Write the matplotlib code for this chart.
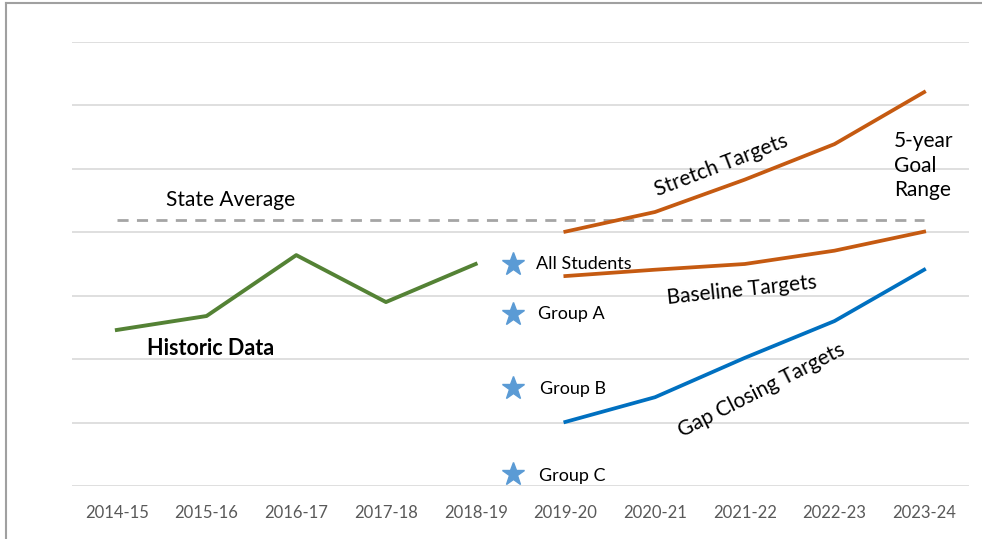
import matplotlib.pyplot as plt
from matplotlib.lines import Line2D
import numpy as np

years = ['2014-15', '2015-16', '2016-17', '2017-18', '2018-19',
         '2019-20', '2020-21', '2021-22', '2022-23', '2023-24']
historic = [24.6, 26.8, 36.4, 29.0, 35.0]
state_avg = 42.0
stretch = [40.1, 43.2, 48.3, 53.9, 62.1]
baseline = [33.1, 34.1, 35.0, 37.1, 40.1]
gap_closing = [10.1, 14.0, 20.2, 26.0, 34.1]
groups = ['All Students', 'Group A', 'Group B', 'Group C']
group_vals = [35.0, 27.1, 15.5, 1.9]

plt.rcParams['font.family'] = ['Lato', 'DejaVu Sans']

fig = plt.figure(figsize=(9.82, 5.39), dpi=100)
ax = fig.add_axes([72/982, 53/539, 897/982, 444/539])

x = np.arange(len(years))
x_hist = x[:5]
x_fut = x[5:]

ax.plot(x_hist, historic, color='#548235', lw=2.8)
ax.plot([0, 9], [state_avg, state_avg], color='#A5A5A5', lw=2, ls=(0, (4, 3)))
ax.plot(x_fut, stretch, color='#C55A11', lw=2.7)
ax.plot(x_fut, baseline, color='#C55A11', lw=2.7)
ax.plot(x_fut, gap_closing, color='#0070C0', lw=2.7)

# stars for the student groups, between 2018-19 and 2019-20
star_x = 4.42
ax.plot([star_x]*len(group_vals), group_vals, ls='none', marker='*',
        ms=17, color='#5B9BD5', clip_on=False)
offs = [0.25, 0.27, 0.30, 0.29]
label_y = [35.0, 27.1, 15.3, 1.6]
for g, v, o in zip(groups, label_y, offs):
    ax.text(star_x + o, v, g, fontsize=13, va='center', ha='left')

ax.text(1.27, 45.1, 'State Average', fontsize=15, ha='center', va='center')
ax.text(1.04, 21.6, 'Historic Data', fontsize=15.5, fontweight='bold',
        ha='center', va='center')
ax.text(6.74, 50.6, 'Stretch Targets', fontsize=15, rotation=21,
        ha='center', va='center')
ax.text(6.97, 30.8, 'Baseline Targets', fontsize=15, rotation=6,
        ha='center', va='center')
ax.text(7.19, 15.1, 'Gap Closing Targets', fontsize=15, rotation=27,
        ha='center', va='center')
ax.text(8.66, 50.5, '5-year\nGoal\nRange', fontsize=15, ha='left',
        va='center', linespacing=1.3)

ax.set_xlim(-0.5, 9.5)
ax.set_ylim(0, 70)
ax.set_yticks(np.arange(0, 71, 10))
ax.set_yticklabels([])
ax.set_xticks(x)
ax.set_xticklabels(years, fontsize=12, color='#595959')
ax.tick_params(axis='both', length=0)
ax.tick_params(axis='x', pad=14)
ax.grid(axis='y', color='#D9D9D9', lw=1.2)
ax.set_axisbelow(True)
for s in ax.spines.values():
    s.set_visible(False)

fig.add_artist(Line2D([6/982, 6/982], [0, 1 - 3/539], color='#A0A0A0', lw=1.5,
                      transform=fig.transFigure))
fig.add_artist(Line2D([6/982, 1], [1 - 3/539, 1 - 3/539], color='#A0A0A0', lw=1.5,
                      transform=fig.transFigure))

fig.savefig('out.png', dpi=100)
